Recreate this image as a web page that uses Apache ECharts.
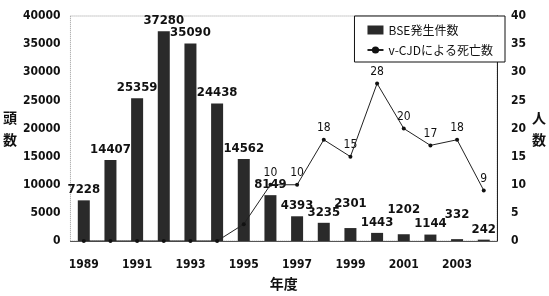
<!DOCTYPE html>
<html>
<head>
<meta charset="utf-8">
<script src="https://cdn.jsdelivr.net/npm/echarts@6/dist/echarts.min.js"></script>
<style>
  html,body{margin:0;padding:0;background:#fff;}
  #chart{width:549px;height:296px;}
</style>
</head>
<body>
<div id="chart"></div>
<script>
// 年度
const years = ['1989','1990','1991','1992','1993','1994','1995','1996',
  '1997','1998','1999','2000','2001','2002','2003','2004'];
// BSE発生件数 (頭数)
const bseCases = [7228,14407,25359,37280,35090,24438,14562,8149,
  4393,3235,2301,1443,1202,1144,332,242];
// v-CJDによる死亡数 (人数)
const vcjdDeaths = [0,0,0,0,0,0,3,10,10,18,15,28,20,17,18,9];

const font = '"DejaVu Sans Condensed","Liberation Sans Narrow",sans-serif';
const cjk = '"Noto Sans CJK JP",sans-serif';

// labels of the small bars are staggered so they don't collide
const raised = {'1999':14,'2001':14,'2003':14};
const barData = bseCases.map((v,i)=>{
  const d = raised[years[i]];
  return d ? {value:v,label:{distance:4+d}} : v;
});

const chart = echarts.init(document.getElementById('chart'));
chart.setOption({
  animation:false,
  backgroundColor:'#fff',
  textStyle:{fontFamily:font,color:'#111'},
  grid:{left:67,right:43,top:16,bottom:51,show:true,borderColor:'#999',borderType:'dotted',borderWidth:1},
  legend:{
    right:44, top:16, orient:'vertical', itemGap:8,
    padding:[8,12,6,12],
    borderColor:'#111', borderWidth:1,
    backgroundColor:'#fff',
    textStyle:{fontFamily:cjk,fontSize:12,color:'#111'},
    itemWidth:16,itemHeight:9,
    data:[
      {name:'BSE発生件数',icon:'rect'},
      {name:'v-CJDによる死亡数'}
    ]
  },
  xAxis:{
    type:'category',
    data:years,
    name:'年度',
    nameLocation:'middle',
    nameGap:36,
    nameTextStyle:{fontFamily:cjk,fontWeight:'bold',fontSize:14,color:'#111'},
    axisLine:{lineStyle:{color:'#555'}},
    axisTick:{show:false},
    axisLabel:{interval:1,margin:18,fontSize:12,fontWeight:'bold',color:'#111'}
  },
  yAxis:[{
    type:'value',
    min:0,max:40000,interval:5000,
    name:'頭\n数',
    nameLocation:'middle',
    nameRotate:0,
    nameGap:50,
    nameTextStyle:{fontFamily:cjk,fontWeight:'bold',fontSize:14,color:'#111',lineHeight:22},
    axisLine:{show:false},
    axisTick:{show:false},
    splitLine:{show:false},
    axisLabel:{fontSize:12,fontWeight:'bold',color:'#111',margin:10,formatter:v=>String(v)}
  },{
    type:'value',
    min:0,max:40,interval:5,
    name:'人\n数',
    nameLocation:'middle',
    nameRotate:0,
    nameGap:32,
    nameTextStyle:{fontFamily:cjk,fontWeight:'bold',fontSize:14,color:'#111',lineHeight:22},
    axisLine:{show:true,lineStyle:{color:'#222'}},
    axisTick:{show:false},
    splitLine:{show:false},
    axisLabel:{fontSize:12,fontWeight:'bold',color:'#111',margin:14,formatter:v=>String(v)}
  }],
  series:[{
    name:'BSE発生件数',
    type:'bar',
    data:barData,
    barWidth:12,
    itemStyle:{color:'#2a2a2a'},
    label:{show:true,position:'top',fontSize:13,fontWeight:'bold',color:'#111',distance:4}
  },{
    name:'v-CJDによる死亡数',
    type:'line',
    yAxisIndex:1,
    data:vcjdDeaths,
    symbol:'circle',
    symbolSize:4,
    itemStyle:{color:'#111'},
    lineStyle:{color:'#222',width:1},
    label:{show:true,position:'top',fontSize:12,color:'#111',distance:4,
      formatter:p=>p.dataIndex>=7?p.value:''}
  }]
});
</script>
</body>
</html>
